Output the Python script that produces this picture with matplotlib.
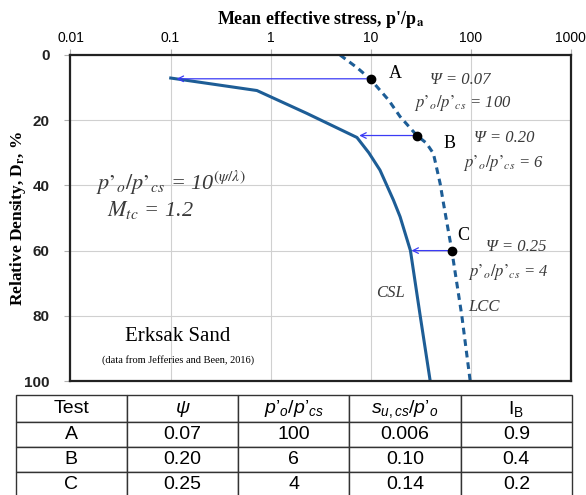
import matplotlib
matplotlib.use('Agg')
import matplotlib.pyplot as plt

plt.rcParams['mathtext.fontset'] = 'custom'
plt.rcParams['mathtext.rm'] = 'Liberation Sans'
plt.rcParams['mathtext.it'] = 'Liberation Sans:italic'
plt.rcParams['mathtext.bf'] = 'Liberation Sans:bold'

# curves (p'/pa, Dr %)
csl_p = [0.097, 0.73, 2.3, 7.3, 9.6, 12.4, 16.9, 19.7, 25.0, 31.3, 39.4]
csl_dr = [7.0, 10.9, 17.9, 25.3, 30.0, 35.3, 44.5, 49.6, 60.0, 80.0, 100.0]
lcc_p = [4.95, 7.4, 10.0, 15.1, 19.7, 29.0, 36.0, 42.4, 49.5, 53.5, 64.8, 81.6, 98.9]
lcc_dr = [0.0, 4.0, 7.5, 13.8, 18.9, 24.7, 27.0, 30.2, 39.4, 45.5, 60.0, 80.0, 100.0]

tests = ['A', 'B', 'C']
test_p = [10.0, 29.0, 64.8]
test_dr = [7.3, 24.7, 60.0]
arrow_end_p = [0.115, 7.7, 25.6]
psi = ['0.07', '0.20', '0.25']
ratio = ['100', '6', '4']
su_ratio = ['0.006', '0.10', '0.14']
ib = ['0.9', '0.4', '0.2']

xticks = [0.01, 0.1, 1, 10, 100, 1000]
xtick_labels = ['0.01', '0.1', '1', '10', '100', '1000']
yticks = [0, 20, 40, 60, 80, 100]

line_col = '#1d5d96'
arrow_col = '#3b3bf5'
txt_col = '#3a3a3a'
serif = 'Liberation Serif'
sans = 'Liberation Sans'

fig = plt.figure(figsize=(5.86, 4.95), dpi=100)
ax = fig.add_axes([0.1203, 0.2303, 0.8536, 0.6586])

ax.set_xscale('log')
ax.set_xlim(0.01, 1000)
ax.set_ylim(100, 0)
ax.xaxis.tick_top()
ax.xaxis.set_label_position('top')
ax.set_xticks(xticks)
ax.set_xticklabels(xtick_labels, fontfamily=sans, fontsize=10)
ax.xaxis.set_minor_locator(matplotlib.ticker.NullLocator())
ax.set_yticks(yticks)
ax.set_yticklabels([str(v) for v in yticks], fontfamily=sans, fontsize=11, fontweight='bold',
                   color='#222222')
ax.tick_params(axis='both', direction='out', length=4, width=0.8, color='#b0b0b0')
ax.tick_params(axis='x', pad=3)
ax.tick_params(axis='y', pad=11)
ax.grid(True, color='#d0d0d0', lw=0.8)
for s in ax.spines.values():
    s.set_linewidth(1.6)
    s.set_color('#222222')

ax.set_xlabel(r"Mean effective stress, p'/p$_\mathbf{a}$", fontfamily=serif, fontweight='bold',
              fontsize=13, labelpad=5, math_fontfamily='stix')
ax.set_ylabel(r'Relative Density, D$_\mathbf{r}$, %', fontfamily=serif, fontweight='bold',
              fontsize=12.5, math_fontfamily='stix')
ax.yaxis.set_label_coords(-0.085, 0.5)

ax.plot(csl_p, csl_dr, color=line_col, lw=2.2, solid_capstyle='butt')
ax.plot(lcc_p, lcc_dr, color=line_col, lw=2.2, ls=(0, (2.2, 1.6)))

for i in range(len(tests)):
    ax.annotate('', xy=(arrow_end_p[i], test_dr[i]), xytext=(test_p[i], test_dr[i]),
                arrowprops=dict(arrowstyle='->', color=arrow_col, lw=0.9,
                                shrinkA=0, shrinkB=0, mutation_scale=10))
ax.plot(test_p, test_dr, 'o', color='black', ms=6, zorder=5)

lab_pos = [(17.5, 5.8), (62, 27.0), (84, 55.5)]
for t, (x, y) in zip(tests, lab_pos):
    ax.text(x, y, t, fontfamily=serif, fontsize=13, ha='center', va='center')

psi_pos = [(78, 7.6), (216, 25.4), (285, 58.8)]
rat_pos = [(84, 14.8), (211, 33.0), (237, 66.5)]
for i in range(len(tests)):
    x, y = psi_pos[i]
    ax.text(x, y, '\u03a8 = ' + psi[i], fontfamily=serif, fontstyle='italic', fontsize=12,
            color=txt_col, ha='center', va='center')
    x, y = rat_pos[i]
    ax.text(x, y, "$p\u2019_o/p\u2019_{cs}$ = " + ratio[i], fontfamily=serif, fontstyle='italic',
            fontsize=12, color=txt_col, ha='center', va='center', math_fontfamily='stix')

ax.text(15.7, 73, 'CSL', fontfamily=serif, fontstyle='italic', fontsize=12, color=txt_col,
        ha='center', va='center')
ax.text(136, 77.2, 'LCC', fontfamily=serif, fontstyle='italic', fontsize=12, color=txt_col,
        ha='center', va='center')

ax.text(0.018, 39.2, "$p\u2019_o/p\u2019_{cs}$ = 10$^{(\\psi/\\lambda)}$", fontfamily=serif,
        fontstyle='italic', fontsize=16, color=txt_col, ha='left', va='center',
        math_fontfamily='stix')
ax.text(0.023, 47.5, r"$M_{tc}$ = 1.2", fontfamily=serif, fontstyle='italic', fontsize=16,
        color=txt_col, ha='left', va='center', math_fontfamily='stix')

ax.text(0.118, 86.4, 'Erksak Sand', fontfamily=serif, fontsize=15, ha='center', va='center')
ax.text(0.118, 93.5, '(data from Jefferies and Been, 2016)', fontfamily=serif, fontsize=7.5,
        ha='center', va='center')

# table under the chart
tax = fig.add_axes([15.5 / 586, -0.004, (572 - 15.5) / 586, 0.206])
tax.axis('off')
headers = ['Test', r'$\it{\psi}$', "$p\u2019_o/p\u2019_{cs}$", "$s_{u,cs}/p\u2019_o$", r'$\mathrm{I_B}$']
rows = [[tests[i], psi[i], ratio[i], su_ratio[i], ib[i]] for i in range(len(tests))]
tb = tax.table(cellText=rows, colLabels=headers, cellLoc='center', bbox=[0, 0, 1, 1])
tb.auto_set_font_size(False)
for (r, c), cell in tb.get_celld().items():
    cell.set_linewidth(1.0)
    cell.set_edgecolor('#333333')
    cell.get_text().set_fontfamily(sans)
    cell.get_text().set_fontsize(14)
    cell.set_height(28 if r == 0 else 25.5)

fig.savefig('out.png', dpi=100)
